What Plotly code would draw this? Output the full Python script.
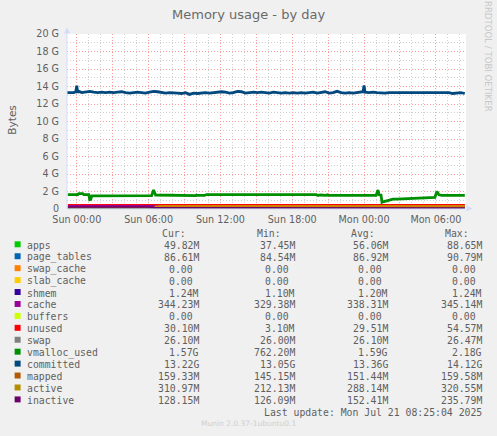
import pandas as pd
import plotly.graph_objects as go

W = 497
H = 436
PLOT_L = 66.5
PLOT_R = 466.5
PLOT_T = 33.5
PLOT_B = 209.5

# readings, in G
committed_t = pd.date_range("2025-07-19 23:05", periods=101, freq="20min")
committed = [13.30, 13.30, 13.30, 13.25, 13.30, 13.35, 13.45, 13.35, 13.30, 13.35,
             13.30, 13.35, 13.30, 13.35, 13.40, 13.30, 13.25, 13.30, 13.35, 13.30,
             13.25, 13.35, 13.45, 13.40, 13.30, 13.25, 13.30, 13.30, 13.25, 13.20,
             13.30, 13.10, 13.25, 13.20, 13.25, 13.30, 13.25, 13.30, 13.35, 13.40,
             13.35, 13.25, 13.30, 13.45, 13.40, 13.25, 13.30, 13.35, 13.30, 13.35,
             13.30, 13.25, 13.35, 13.30, 13.25, 13.30, 13.25, 13.30, 13.25, 13.30,
             13.25, 13.30, 13.35, 13.25, 13.30, 13.40, 13.25, 13.30, 13.45, 13.30,
             13.25, 13.30, 13.25, 13.30, 13.30, 13.35, 13.30, 13.35, 13.30, 13.25,
             13.25, 13.30, 13.30, 13.25, 13.30, 13.25, 13.25, 13.30, 13.25, 13.30,
             13.25, 13.25, 13.30, 13.25, 13.30, 13.25, 13.30, 13.20, 13.25, 13.30,
             13.20]
committed_spike_t = ["2025-07-19 23:55", "2025-07-20 00:00", "2025-07-20 00:05",
                     "2025-07-20 23:55", "2025-07-21 00:00", "2025-07-21 00:05"]
committed_spike = [13.4, 14.1, 13.5, 13.4, 14.12, 13.5]

vmalloc_t = ["2025-07-19 23:15", "2025-07-20 00:05", "2025-07-20 00:10", "2025-07-20 00:30",
             "2025-07-20 00:35", "2025-07-20 01:00", "2025-07-20 01:05", "2025-07-20 01:10",
             "2025-07-20 01:15", "2025-07-20 06:10", "2025-07-20 06:15", "2025-07-20 06:25",
             "2025-07-20 06:35", "2025-07-20 09:55", "2025-07-20 10:00", "2025-07-20 10:05",
             "2025-07-20 10:40", "2025-07-20 10:50", "2025-07-20 20:00", "2025-07-20 20:10",
             "2025-07-20 20:20", "2025-07-20 20:50", "2025-07-20 20:55", "2025-07-20 21:00",
             "2025-07-21 01:00", "2025-07-21 01:10", "2025-07-21 01:15", "2025-07-21 01:25",
             "2025-07-21 01:30", "2025-07-21 01:40", "2025-07-21 02:00", "2025-07-21 02:15",
             "2025-07-21 02:25", "2025-07-21 02:45", "2025-07-21 05:00", "2025-07-21 05:55",
             "2025-07-21 06:05", "2025-07-21 06:15", "2025-07-21 06:30", "2025-07-21 08:25"]
vmalloc = [1.65, 1.65, 1.75, 1.75, 1.65, 1.65, 1.06, 1.10, 1.50, 1.52, 1.52, 2.17,
           1.60, 1.52, 1.60, 1.55, 1.55, 1.65, 1.65, 1.55, 1.60, 1.55, 1.62, 1.55,
           1.55, 2.18, 1.62, 1.60, 0.76, 0.85, 0.95, 1.06, 1.14, 1.14, 1.30, 1.32,
           2.00, 1.62, 1.55, 1.55]

band_t = ["2025-07-19 23:15", "2025-07-20 03:00", "2025-07-20 06:00", "2025-07-20 06:30",
          "2025-07-20 07:00", "2025-07-20 12:00", "2025-07-20 18:00", "2025-07-21 00:00",
          "2025-07-21 06:00", "2025-07-21 08:25"]
apps = [0.05, 0.05, 0.05, 0.06, 0.06, 0.05, 0.06, 0.06, 0.05, 0.05]
page_tables = [0.087, 0.087, 0.086, 0.087, 0.087, 0.087, 0.087, 0.087, 0.086, 0.087]
swap_cache = [0, 0, 0, 0, 0, 0, 0, 0, 0, 0]
slab_cache = [0, 0, 0, 0, 0, 0, 0, 0, 0, 0]
shmem = [0.001, 0.001, 0.001, 0.001, 0.001, 0.001, 0.001, 0.001, 0.001, 0.001]
cache = [0.34, 0.34, 0.34, 0.33, 0.34, 0.34, 0.34, 0.34, 0.34, 0.344]
buffers = [0, 0, 0, 0, 0, 0, 0, 0, 0, 0]
unused = [0.03, 0.03, 0.03, 0.03, 0.03, 0.03, 0.03, 0.03, 0.03, 0.03]
swap = [0.026, 0.026, 0.026, 0.026, 0.026, 0.026, 0.026, 0.026, 0.026, 0.026]
mapped = [0.15, 0.15, 0.15, 0.15, 0.15, 0.15, 0.15, 0.15, 0.16, 0.159]
active = [None, None, None, 0.22, 0.31, 0.31, 0.31, 0.31, 0.31, 0.311]
inactive = [0.23, 0.23, 0.23, 0.14, 0.13, 0.13, 0.13, 0.13, 0.13, 0.128]

names = ["apps", "page_tables", "swap_cache", "slab_cache", "shmem", "cache", "buffers",
         "unused", "swap", "vmalloc_used", "committed", "mapped", "active", "inactive"]
colors = ["#00CC00", "#0066B3", "#FF8000", "#FFCC00", "#330099", "#990099", "#CCFF00",
          "#FF0000", "#808080", "#008F00", "#00487D", "#B35A00", "#B38F00", "#6B006B"]
cur = ["49.82M", "86.61M", "0.00", "0.00", "1.24M", "344.23M", "0.00",
       "30.10M", "26.10M", "1.57G", "13.22G", "159.33M", "310.97M", "128.15M"]
mins = ["37.45M", "84.54M", "0.00", "0.00", "1.10M", "329.38M", "0.00",
        "3.10M", "26.00M", "762.20M", "13.05G", "145.15M", "212.13M", "126.09M"]
avgs = ["56.06M", "86.92M", "0.00", "0.00", "1.20M", "338.31M", "0.00",
        "29.51M", "26.10M", "1.59G", "13.36G", "151.44M", "288.14M", "152.41M"]
maxs = ["88.65M", "90.79M", "0.00", "0.00", "1.24M", "345.14M", "0.00",
        "54.57M", "26.47M", "2.18G", "14.12G", "159.58M", "320.55M", "235.79M"]

y_ticks = [0, 2, 4, 6, 8, 10, 12, 14, 16, 18, 20]
y_labels = ["0", "2 G", "4 G", "6 G", "8 G", "10 G", "12 G", "14 G", "16 G", "18 G", "20 G"]
x_ticks = ["2025-07-20 00:00", "2025-07-20 03:00", "2025-07-20 06:00", "2025-07-20 09:00",
           "2025-07-20 12:00", "2025-07-20 15:00", "2025-07-20 18:00", "2025-07-20 21:00",
           "2025-07-21 00:00", "2025-07-21 03:00", "2025-07-21 06:00"]
x_labels = ["Sun 00:00", "", "Sun 06:00", "", "Sun 12:00", "", "Sun 18:00", "",
            "Mon 00:00", "", "Mon 06:00"]

TEXT = "#5f5f5f"
MONO = "DejaVu Sans Mono"
SANS = "DejaVu Sans"
AXIS = "#d3dbfa"
MAJOR_GRID = "#ff9c9c"
MINOR_GRID = "#cfcfcf"
ACTIVE_LINE = "#CC8400"


def px_x(x):
    return (x - PLOT_L) / (PLOT_R - PLOT_L)


def px_y(y):
    return (PLOT_B - y) / (PLOT_B - PLOT_T)


def label(x, y, text, anchor="left", size=9.8, family=MONO, color=TEXT, angle=0):
    fig.add_annotation(x=px_x(x), y=px_y(y), xref="paper", yref="paper", text=text,
                       showarrow=False, xanchor=anchor, yanchor="middle", textangle=angle,
                       font=dict(family=family, size=size, color=color),
                       borderpad=0, borderwidth=0)


fig = go.Figure()

stack = [apps, page_tables, swap_cache, slab_cache, shmem, cache, buffers, unused, swap]
for i, vals in enumerate(stack):
    # unused is under a pixel tall, the edge line keeps it visible
    edge = 1 if names[i] == "unused" else 0
    fig.add_trace(go.Scatter(x=band_t, y=vals, mode="lines", stackgroup="mem",
                             line=dict(width=edge, color=colors[i]), fillcolor=colors[i],
                             name=names[i]))

fig.add_trace(go.Scatter(x=vmalloc_t, y=vmalloc, mode="lines", name="vmalloc_used",
                         line=dict(color=colors[9], width=2.8)))

committed_s = pd.concat([
    pd.Series(committed, index=committed_t),
    pd.Series(committed_spike, index=pd.to_datetime(committed_spike_t)),
]).sort_index()
fig.add_trace(go.Scatter(x=committed_s.index, y=committed_s.values, mode="lines", name="committed",
                         line=dict(color=colors[10], width=2.8)))

for vals, name, col, lw in zip([mapped, active, inactive], names[11:],
                               [colors[11], ACTIVE_LINE, colors[13]], [1.5, 2.6, 1.5]):
    fig.add_trace(go.Scatter(x=band_t, y=vals, mode="lines", name=name,
                             line=dict(color=col, width=lw)))

fig.update_layout(
    width=W,
    height=H,
    autosize=False,
    showlegend=False,
    paper_bgcolor="#f0f0f0",
    plot_bgcolor="#ffffff",
    margin=dict(l=PLOT_L, r=W - PLOT_R, t=PLOT_T, b=H - PLOT_B, pad=0),
)
fig.update_xaxes(
    type="date",
    range=["2025-07-19 23:11", "2025-07-21 08:31"],
    tickvals=x_ticks,
    ticktext=x_labels,
    tickangle=0,
    ticks="",
    ticklabelstandoff=3,
    tickfont=dict(family=SANS, size=9.6, color=TEXT),
    showline=False,
    zeroline=False,
    showgrid=True,
    gridcolor=MAJOR_GRID,
    griddash="1px,2px",
    gridwidth=1,
    minor=dict(showgrid=True, dtick=3600000, tick0="2025-07-20 00:00",
               gridcolor=MINOR_GRID, griddash="1px,2px", gridwidth=1),
)
fig.update_yaxes(
    range=[0, 20],
    tickvals=y_ticks,
    ticktext=y_labels,
    ticks="",
    ticklabelstandoff=7,
    tickfont=dict(family=SANS, size=9.6, color=TEXT),
    showline=False,
    zeroline=False,
    showgrid=True,
    gridcolor=MAJOR_GRID,
    griddash="1px,2px",
    gridwidth=1,
    minor=dict(showgrid=True, dtick=1, gridcolor=MINOR_GRID, griddash="1px,2px", gridwidth=1),
)

# axis lines with the little arrow heads
fig.add_shape(type="line", xref="paper", yref="paper", x0=px_x(66.5), x1=px_x(66.5),
              y0=px_y(PLOT_B), y1=px_y(PLOT_T), line=dict(color=AXIS, width=1), layer="above")
fig.add_shape(type="line", xref="paper", yref="paper", x0=px_x(66.5), x1=px_x(PLOT_R),
              y0=px_y(PLOT_B), y1=px_y(PLOT_B), line=dict(color=AXIS, width=1), layer="above")
fig.add_shape(type="path", xref="paper", yref="paper", fillcolor=AXIS, line=dict(width=0),
              path=f"M {px_x(63.5)} {px_y(33)} L {px_x(69.5)} {px_y(33)} L {px_x(66.5)} {px_y(27)} Z")
fig.add_shape(type="path", xref="paper", yref="paper", fillcolor=AXIS, line=dict(width=0),
              path=f"M {px_x(467)} {px_y(206)} L {px_x(467)} {px_y(212)} L {px_x(473)} {px_y(209)} Z")

label(248.5, 14, "Memory usage - by day", anchor="center", size=13, family=SANS, color="#6a6a6a")
label(11, 120, "Bytes", anchor="center", size=10.5, family=SANS, angle=-90)
label(488, 56, "RRDTOOL / TOBI OETIKER", anchor="center", size=8.6, family=SANS, color="#c8c8c8", angle=90)

# legend table
for head, right in zip(["Cur:", "Min:", "Avg:", "Max:"], [186, 281, 375, 470]):
    label(right, 234, head, anchor="right")

for i, name in enumerate(names):
    row_y = 245 + i * 12
    fig.add_shape(type="rect", xref="paper", yref="paper", x0=px_x(14), x1=px_x(20),
                  y0=px_y(row_y + 3), y1=px_y(row_y - 3), fillcolor=colors[i], line=dict(width=0))
    label(26, row_y + 1, name)
    for col, right in zip([cur, mins, avgs, maxs], [199, 294.7, 388.5, 483]):
        val = col[i]
        # plain numbers leave a blank where the unit would be
        label(right - (0 if val[-1] in "MG" else 6), row_y + 1, val, anchor="right")

label(482.5, 414, "Last update: Mon Jul 21 08:25:04 2025", anchor="right")
label(248.5, 425, "Munin 2.0.37-1ubuntu0.1", anchor="center", size=7.5, family=SANS, color="#cfcfcf")

fig.write_html("out.html", config=dict(displayModeBar=False),
               post_script="document.body.style.margin='0';document.body.style.overflow='hidden';")
